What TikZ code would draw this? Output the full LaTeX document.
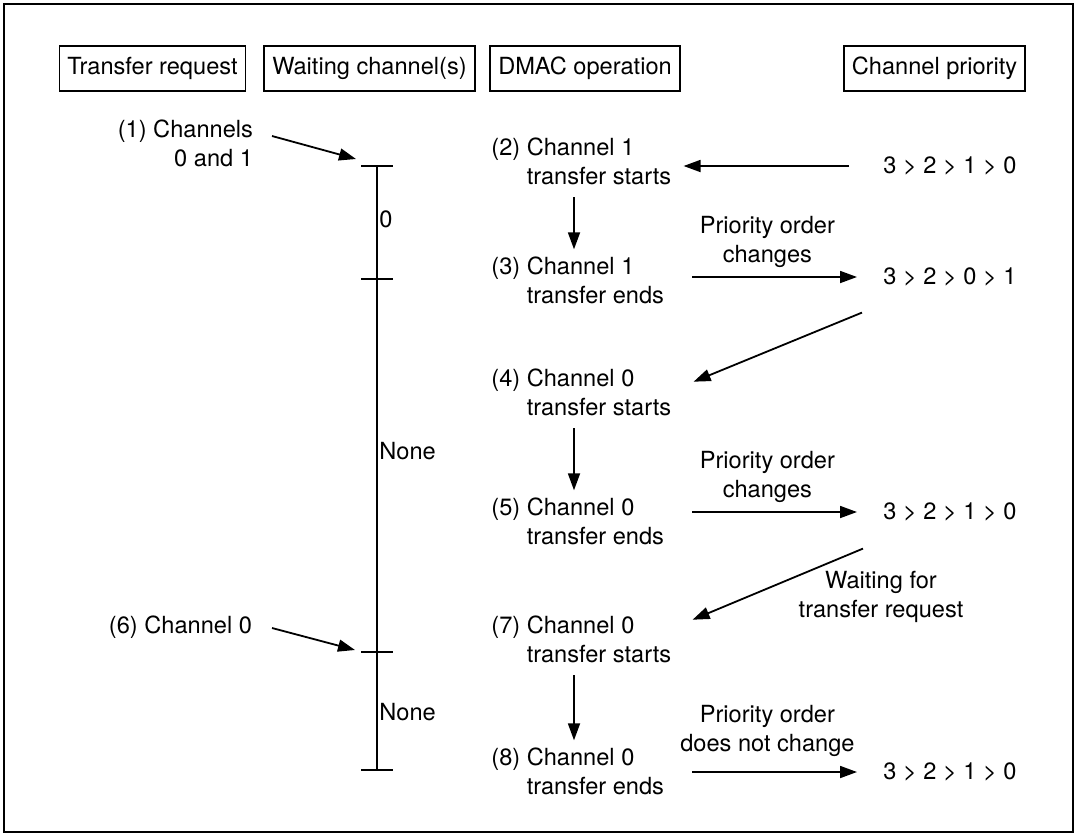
\documentclass[tikz,border=0pt]{standalone}
\usepackage{fontspec}
\setmainfont{TeX Gyre Heros}
\usetikzlibrary{arrows.meta, positioning, calc}

\begin{document}
\begin{tikzpicture}[
  x=0.5pt, y=-0.5pt,
  font=\fontsize{11.8}{14.5}\selectfont,
  head/.style={rectangle, draw, line width=0.8pt,
               minimum height=22.5pt, inner xsep=4pt},
  op/.style={inner sep=2pt, anchor=base west},
  pri/.style={inner sep=2pt},
  lbl/.style={align=center, inner sep=2pt},
  arr/.style={-{Triangle[length=8.5pt, width=6pt]}, line width=0.9pt},
  harr/.style={arr, shorten <=12pt, shorten >=11pt}
]
  \useasboundingbox (0,0) rectangle (1077,836);
  \draw[line width=0.7pt] (4,4) rectangle (1073,832);

  \node[head] (hreq) at (152.5,68.5) {Transfer request};
  \node[head] (hwait) at (369.5,68.5) {Waiting channel(s)};
  \node[head] (hdmac) at (585,68.5) {DMAC operation};
  \node[head] (hprio) at (934.5,68.5) {Channel priority};

  \node[align=right, anchor=east] (r1) at (260,143) {(1) Channels\\0 and 1};
  \node[anchor=east] (r6) at (259,627) {(6) Channel 0};

  \coordinate (t1) at (377,166);
  \coordinate (t2) at (377,279);
  \coordinate (t3) at (377,652);
  \coordinate (t4) at (377,770);
  \draw[line width=0.9pt] (t1) -- (t4);
  \foreach \t in {t1,t2,t3,t4}
    \draw[line width=0.9pt] ([xshift=-8pt]\t) -- ([xshift=8pt]\t);
  \node[anchor=west, inner sep=1pt] (w0) at (377,219) {0};
  \node[anchor=west, inner sep=1pt] (w1) at (377,451) {None};
  \node[anchor=west, inner sep=1pt] (w2) at (377,712) {None};

  \node[op] (s2) at (487,155) {(2) \begin{tabular}[t]{@{}l@{}}Channel 1\\transfer starts\end{tabular}};
  \node[op] (s3) at (487,274) {(3) \begin{tabular}[t]{@{}l@{}}Channel 1\\transfer ends\end{tabular}};
  \node[op] (s4) at (487,386) {(4) \begin{tabular}[t]{@{}l@{}}Channel 0\\transfer starts\end{tabular}};
  \node[op] (s5) at (487,515) {(5) \begin{tabular}[t]{@{}l@{}}Channel 0\\transfer ends\end{tabular}};
  \node[op] (s7) at (487,633) {(7) \begin{tabular}[t]{@{}l@{}}Channel 0\\transfer starts\end{tabular}};
  \node[op] (s8) at (487,765) {(8) \begin{tabular}[t]{@{}l@{}}Channel 0\\transfer ends\end{tabular}};

  \node[pri] (p0) at (950,166) {3 > 2 > 1 > 0};
  \node[pri] (p1) at (950,277) {3 > 2 > 0 > 1};
  \node[pri] (p2) at (950,512) {3 > 2 > 1 > 0};
  \node[pri] (p3) at (950,772) {3 > 2 > 1 > 0};

  \node[lbl] (wreq) at (881,597) {Waiting for\\transfer request};

  \draw[arr] ($(r1.east)+(12,-7)$) -- ($(t1)+(-21,-7)$);
  \draw[arr] ($(r6.east)+(13,1)$) -- ($(t3)+(-22,-2)$);

  \coordinate (vx) at (574,0);
  \draw[arr] (s2.south -| vx) -- (s3.north -| vx);
  \draw[arr] (s4.south -| vx) -- (s5.north -| vx);
  \draw[arr] (s7.south -| vx) -- (s8.north -| vx);

  \draw[harr, shorten <=15pt, shorten >=4pt] (p0.west) -- (p0.west -| s2.east);
  \draw[harr] (s3.east |- p1.west) -- (p1.west)
    node[lbl, pos=.47, above=2pt] {Priority order\\changes};
  \draw[harr] (s5.east |- p2.west) -- (p2.west)
    node[lbl, pos=.47, above=2pt] {Priority order\\changes};
  \draw[harr] (s8.east |- p3.west) -- (p3.west)
    node[lbl, pos=.47, above=5pt] {Priority order\\does not change};

  \draw[arr] ($(p1.south west)+(-17,22)$) -- ($(s4.east)+(18,-13)$);
  \draw[arr] ($(p2.south west)+(-16,23)$) -- ($(s7.east)+(17,-22)$);
\end{tikzpicture}
\end{document}
